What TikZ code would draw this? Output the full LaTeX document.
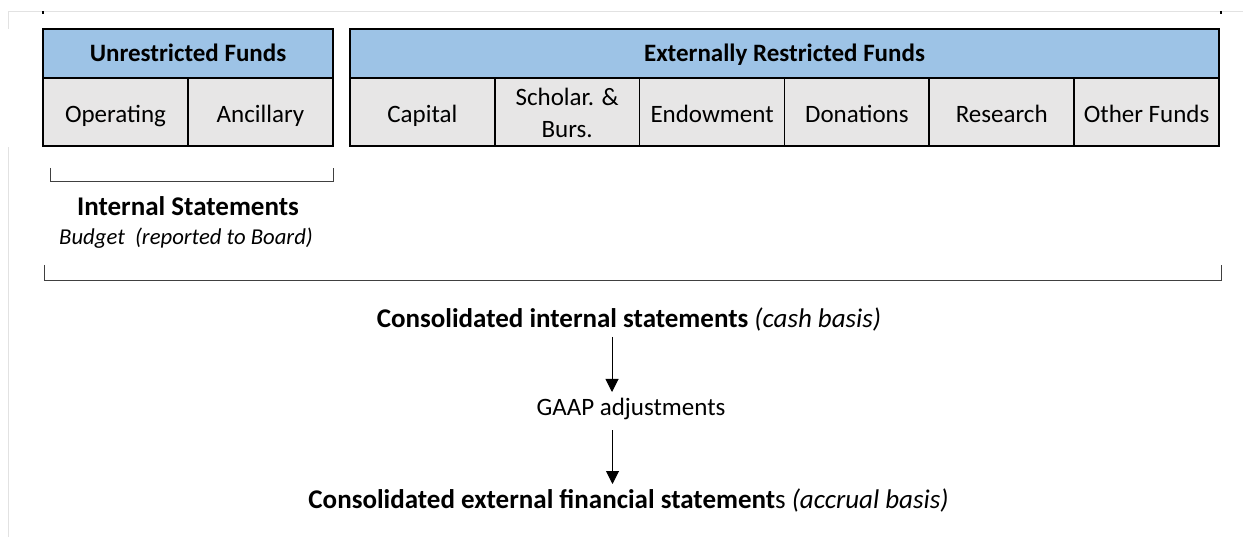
\documentclass[tikz,border=0pt]{standalone}
\usepackage{fontspec}
\setmainfont{Carlito}
\usetikzlibrary{arrows.meta}
\definecolor{hdrblue}{HTML}{9DC3E6}
\definecolor{cellgray}{HTML}{E7E6E6}
\definecolor{faint}{HTML}{E2E2E2}
\definecolor{brk}{HTML}{404040}
\tikzset{
  hdrbox/.style={draw=black, line width=1.6pt, fill=hdrblue, inner sep=0pt, outer sep=0pt, minimum height=49pt},
  cellbox/.style={draw=black, line width=1.6pt, fill=cellgray, inner sep=0pt, outer sep=0pt, minimum height=68pt, minimum width=144.83pt},
  lbl/.style={inner sep=0pt, anchor=base, font=\fontsize{25}{30}\selectfont},
  hlbl/.style={lbl, font=\fontsize{25}{30}\selectfont\bfseries},
  txt/.style={inner sep=0pt, anchor=base, font=\fontsize{27}{32}\selectfont},
  arr/.style={line width=1pt, -{Triangle[length=13pt,width=13pt]}},
  brack/.style={draw=brk, line width=1pt}
}
\begin{document}
\begin{tikzpicture}[x=1pt,y=-1pt]
\useasboundingbox (0,0) rectangle (1243,537);
% faint page lines
\draw[faint, line width=1pt] (8,12) -- (1243,12);
\draw[faint, line width=1pt] (8,12) -- (8,29);
\draw[faint, line width=1pt] (8,147) -- (8,537);
\draw[black, line width=1.2pt] (43,11) -- (43,14);
\draw[black, line width=1.2pt] (1221,11) -- (1221,14);
% unrestricted
\node[hdrbox, minimum width=290pt] (unr) at (188,53.5) {};
\node[hlbl] (unrl) at (188,62) {Unrestricted Funds};
\node[cellbox] (oper) at (115.5,112) {};
\node[cellbox] (anc) at (260.5,112) {};
\node[lbl] (operl) at (115.5,123) {Operating};
\node[lbl] (ancl) at (260.5,123) {Ancillary};
% externally restricted
\node[hdrbox, minimum width=869pt] (ext) at (784.5,53.5) {};
\node[hlbl] (extl) at (784.5,62) {Externally Restricted Funds};
\node[cellbox] (cap) at (422.4,112) {};
\node[cellbox] (sch) at (567.2,112) {};
\node[cellbox] (end) at (712.1,112) {};
\node[cellbox] (don) at (856.9,112) {};
\node[cellbox] (res) at (1001.7,112) {};
\node[cellbox] (oth) at (1146.6,112) {};
\node[lbl] (capl) at (422.4,123) {Capital};
\node[lbl] (schl1) at (567.2,106) {Scholar. \&};
\node[lbl] (schl2) at (567.2,138) {Burs.};
\node[lbl] (endl) at (712.1,123) {Endowment};
\node[lbl] (donl) at (856.9,123) {Donations};
\node[lbl] (resl) at (1001.7,123) {Research};
\node[lbl] (othl) at (1146.6,123) {Other Funds};
% small bracket
\coordinate (b1a) at (50,168);
\coordinate (b1b) at (333,168);
\draw[brack] (b1a) -- (50,182) -- (333,182) -- (b1b);
\node[txt, font=\fontsize{27}{32}\selectfont\bfseries] (ist) at (188,216) {Internal Statements};
\node[txt, font=\fontsize{22.7}{27}\selectfont\itshape] (bud) at (186,245) {Budget\ \ (reported to Board)};
% big bracket
\coordinate (b2a) at (44,265);
\coordinate (b2b) at (1221,265);
\draw[brack] (b2a) -- (44,281) -- (1221,281) -- (b2b);
% flow
\node[txt] (cis) at (629,328) {\textbf{Consolidated internal statements} \textit{(cash basis)}};
\node[txt, font=\fontsize{25}{30}\selectfont] (gaap) at (631,415) {GAAP adjustments};
\node[txt] (ces) at (628.5,508) {\textbf{Consolidated external financial statement}s \textit{(accrual basis)}};
\coordinate (a1s) at (612,337);
\coordinate (a1e) at (612,392);
\coordinate (a2s) at (612.5,430);
\coordinate (a2e) at (612.5,484);
\draw[arr] (a1s) -- (a1e);
\draw[arr] (a2s) -- (a2e);
\end{tikzpicture}
\end{document}
